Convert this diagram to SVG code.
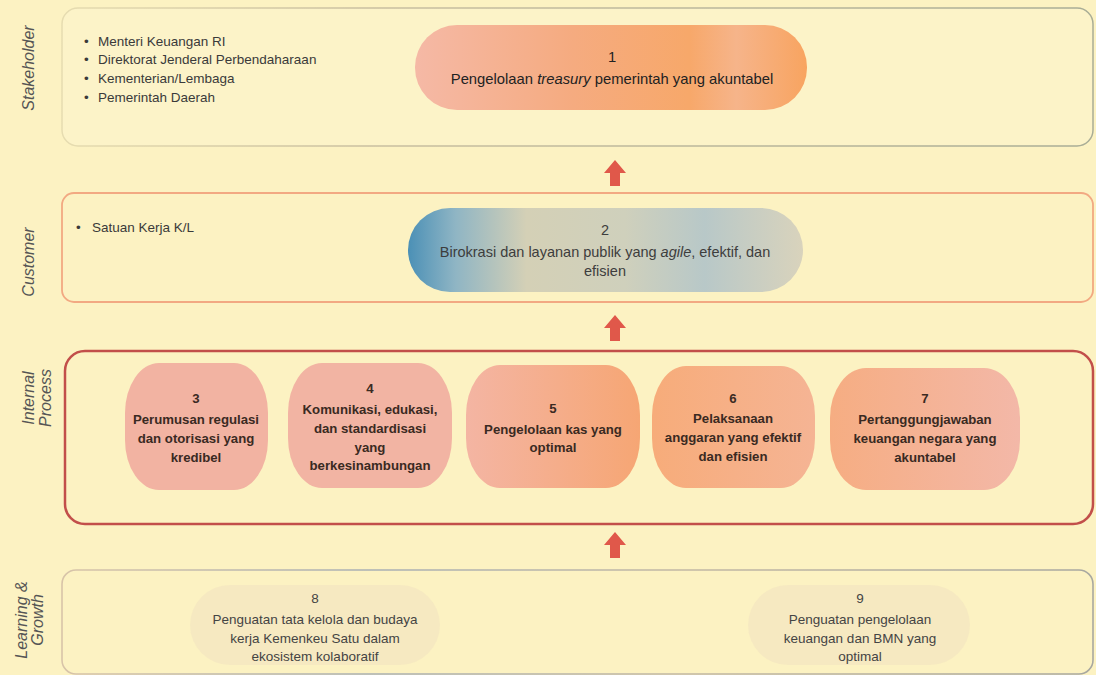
<svg xmlns="http://www.w3.org/2000/svg" width="1096" height="675" viewBox="0 0 1096 675">
<defs>
<style>
.lbl{font-family:"Liberation Sans",Arial,sans-serif;font-style:italic;font-size:16px;fill:#555}
.bul{font-family:"Liberation Sans",Arial,sans-serif;font-size:13.5px;fill:#3a3a3a}
.t1{font-family:"Liberation Sans",Arial,sans-serif;font-size:14.8px;fill:#222;text-anchor:middle}
.t2{font-family:"Liberation Sans",Arial,sans-serif;font-size:14.5px;fill:#3d3d3d;text-anchor:middle}
.tp{font-family:"Liberation Sans",Arial,sans-serif;font-size:13.2px;font-weight:bold;fill:#3a2a22;text-anchor:middle}
.tl{font-family:"Liberation Sans",Arial,sans-serif;font-size:13.5px;fill:#444;text-anchor:middle}
.arrow{fill:#e0584a}
</style>
<linearGradient id="g1" x1="0" y1="0" x2="1" y2="0">
<stop offset="0" stop-color="#f5b9a6"/>
<stop offset="0.4" stop-color="#f5ab80"/>
<stop offset="0.7" stop-color="#f7a86a"/>
<stop offset="0.82" stop-color="#f6b48a"/>
<stop offset="1" stop-color="#f8a460"/>
</linearGradient>
<linearGradient id="g2" x1="0" y1="0" x2="1" y2="0">
<stop offset="0" stop-color="#4b90b6"/>
<stop offset="0.12" stop-color="#8fb5c4"/>
<stop offset="0.3" stop-color="#d4d0b6"/>
<stop offset="0.55" stop-color="#cfd0bc"/>
<stop offset="0.75" stop-color="#b8c8c8"/>
<stop offset="1" stop-color="#d9d3bc"/>
</linearGradient>
<linearGradient id="g5" x1="0" y1="0" x2="1" y2="0">
<stop offset="0" stop-color="#f4b5a3"/>
<stop offset="1" stop-color="#f6a674"/>
</linearGradient>
<linearGradient id="g6" x1="0" y1="0" x2="1" y2="0">
<stop offset="0" stop-color="#f7ac7a"/>
<stop offset="1" stop-color="#f5b494"/>
</linearGradient>
<linearGradient id="g7" x1="0" y1="0" x2="1" y2="0">
<stop offset="0" stop-color="#f6ad82"/>
<stop offset="1" stop-color="#f3b8a8"/>
</linearGradient>
<linearGradient id="gs" x1="0" y1="0" x2="1" y2="0">
<stop offset="0" stop-color="#e6dcb0"/>
<stop offset="0.3" stop-color="#c9bfa0"/>
<stop offset="1" stop-color="#a9ad96"/>
</linearGradient>
<linearGradient id="gl" x1="0" y1="0" x2="1" y2="0">
<stop offset="0" stop-color="#d8c4a8"/>
<stop offset="0.3" stop-color="#a9b0b4"/>
<stop offset="0.6" stop-color="#c2b8a4"/>
<stop offset="1" stop-color="#a8a8a0"/>
</linearGradient>
</defs>
<rect x="0" y="0" width="1096" height="675" fill="#fcf2c2"/>

<g id="lane-stakeholder">
<rect x="62" y="8" width="1031" height="138" rx="16" fill="#fcf3c8" stroke="url(#gs)" stroke-width="1.5"/>
<text class="lbl" transform="translate(34,68) rotate(-90)" text-anchor="middle">Stakeholder</text>
<text class="bul" x="84" y="46">•</text><text class="bul" x="98" y="46">Menteri Keuangan RI</text>
<text class="bul" x="84" y="64">•</text><text class="bul" x="98" y="64">Direktorat Jenderal Perbendaharaan</text>
<text class="bul" x="84" y="83">•</text><text class="bul" x="98" y="83">Kementerian/Lembaga</text>
<text class="bul" x="84" y="102">•</text><text class="bul" x="98" y="102">Pemerintah Daerah</text>
</g>

<g id="lane-customer">
<rect x="62" y="193" width="1031" height="109" rx="12" fill="none" stroke="#f2a982" stroke-width="1.8"/>
<text class="lbl" transform="translate(34,262) rotate(-90)" text-anchor="middle">Customer</text>
<text class="bul" x="76" y="232">•</text><text class="bul" x="92" y="232">Satuan Kerja K/L</text>
</g>

<g id="lane-internal">
<rect x="65" y="351" width="1028" height="173" rx="20" fill="none" stroke="#c24f4a" stroke-width="2.5"/>
<text class="lbl" transform="translate(34,398) rotate(-90)" text-anchor="middle">Internal</text>
<text class="lbl" transform="translate(51,398) rotate(-90)" text-anchor="middle">Process</text>
</g>

<g id="lane-learning">
<rect x="62" y="570" width="1031" height="104" rx="14" fill="none" stroke="url(#gl)" stroke-width="1.6"/>
<text class="lbl" transform="translate(27,620) rotate(-90)" text-anchor="middle">Learning &amp;</text>
<text class="lbl" transform="translate(43,620) rotate(-90)" text-anchor="middle">Growth</text>
</g>

<g id="connectors">
<path class="arrow" d="M615,160 L626,173 L620,173 L620,186 L610,186 L610,173 L604,173 Z"/>
<path class="arrow" d="M615,315 L626,328 L620,328 L620,341 L610,341 L610,328 L604,328 Z"/>
<path class="arrow" d="M615,532 L626,545 L620,545 L620,558 L610,558 L610,545 L604,545 Z"/>
</g>

<g id="node1">
<rect x="415" y="25" width="392" height="85" rx="42" fill="url(#g1)"/>
<text class="t1" x="612" y="62">1</text>
<text class="t1" x="612" y="84">Pengelolaan <tspan font-style="italic">treasury</tspan> pemerintah yang akuntabel</text>
</g>

<g id="node2">
<rect x="408" y="208" width="395" height="84" rx="42" fill="url(#g2)"/>
<text class="t2" x="605" y="235">2</text>
<text class="t2" x="605" y="257">Birokrasi dan layanan publik yang <tspan font-style="italic">agile</tspan>, efektif, dan</text>
<text class="t2" x="605" y="276">efisien</text>
</g>

<g id="node3">
<rect x="125" y="363" width="143" height="127" rx="34" ry="50" fill="#f2b3a2"/>
<text class="tp" x="196" y="403">3</text>
<text class="tp" x="196" y="424">Perumusan regulasi</text>
<text class="tp" x="196" y="443">dan otorisasi yang</text>
<text class="tp" x="196" y="462">kredibel</text>
</g>

<g id="node4">
<rect x="288" y="363" width="164" height="125" rx="34" ry="50" fill="#f2b4a3"/>
<text class="tp" x="370" y="393">4</text>
<text class="tp" x="370" y="414">Komunikasi, edukasi,</text>
<text class="tp" x="370" y="433">dan standardisasi</text>
<text class="tp" x="370" y="452">yang</text>
<text class="tp" x="370" y="470">berkesinambungan</text>
</g>

<g id="node5">
<rect x="466" y="365" width="174" height="123" rx="34" ry="50" fill="url(#g5)"/>
<text class="tp" x="553" y="413">5</text>
<text class="tp" x="553" y="434">Pengelolaan kas yang</text>
<text class="tp" x="553" y="452">optimal</text>
</g>

<g id="node6">
<rect x="652" y="366" width="163" height="122" rx="34" ry="50" fill="url(#g6)"/>
<text class="tp" x="733" y="403">6</text>
<text class="tp" x="733" y="423">Pelaksanaan</text>
<text class="tp" x="733" y="442">anggaran yang efektif</text>
<text class="tp" x="733" y="461">dan efisien</text>
</g>

<g id="node7">
<rect x="830" y="368" width="190" height="122" rx="36" ry="50" fill="url(#g7)"/>
<text class="tp" x="925" y="403">7</text>
<text class="tp" x="925" y="424">Pertanggungjawaban</text>
<text class="tp" x="925" y="443">keuangan negara yang</text>
<text class="tp" x="925" y="462">akuntabel</text>
</g>

<g id="node8">
<rect x="190" y="585" width="250" height="80" rx="40" fill="#f4e6c0" opacity="0.7"/>
<text class="tl" x="315" y="603">8</text>
<text class="tl" x="315" y="624">Penguatan tata kelola dan budaya</text>
<text class="tl" x="315" y="643">kerja Kemenkeu Satu dalam</text>
<text class="tl" x="315" y="661">ekosistem kolaboratif</text>
</g>

<g id="node9">
<rect x="748" y="585" width="222" height="80" rx="40" fill="#f4e6c0" opacity="0.7"/>
<text class="tl" x="860" y="603">9</text>
<text class="tl" x="860" y="624">Penguatan pengelolaan</text>
<text class="tl" x="860" y="643">keuangan dan BMN yang</text>
<text class="tl" x="860" y="661">optimal</text>
</g>
</svg>
